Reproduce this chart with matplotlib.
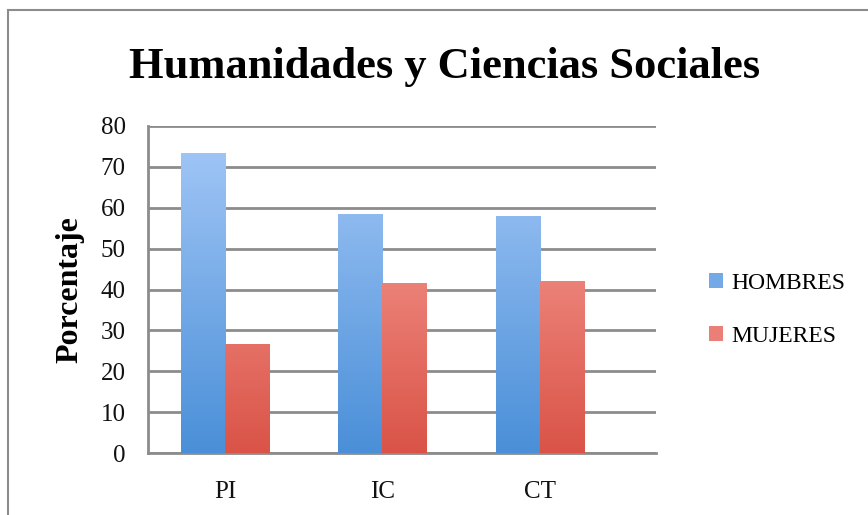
import numpy as np
import matplotlib.pyplot as plt
from matplotlib.colors import LinearSegmentedColormap
from matplotlib.patches import Rectangle, Patch

categories = ['PI', 'IC', 'CT']
hombres = [73.3, 58.4, 57.9]
mujeres = [26.7, 41.6, 42.1]

serif = ['Liberation Serif', 'DejaVu Serif']
plt.rcParams['font.family'] = serif

blue_cmap = LinearSegmentedColormap.from_list('b', ['#4a8fd8', '#a6c9f8'])
red_cmap = LinearSegmentedColormap.from_list('r', ['#da5347', '#fbaba5'])

fig = plt.figure(figsize=(8.68, 5.15), dpi=100)
ax = fig.add_axes([148/868, 1-453/515, (656-148)/868, (453-126)/515])

# outer chart border
fig.patches.append(Rectangle((8/868, -0.1), 1.2, 1 - 10/515 + 0.1, transform=fig.transFigure,
                             fill=False, edgecolor='#8c8c8c', linewidth=1.5))

x = np.arange(len(categories))
w = 0.28
grad = np.linspace(0, 1, 256).reshape(-1, 1)

def gradient_bars(xs, vals, cmap):
    bars = ax.bar(xs, vals, w, color='none', edgecolor='none', zorder=3)
    for b in bars:
        x0 = b.get_x()
        im = ax.imshow(grad, cmap=cmap, origin='lower', aspect='auto',
                       extent=[x0, x0 + b.get_width(), 0, 80], zorder=3)
        im.set_clip_path(b)
    return bars

gradient_bars(x - w/2, hombres, blue_cmap)
gradient_bars(x + w/2, mujeres, red_cmap)

ax.set_xlim(-0.49, 2.74)
ax.set_ylim(0, 80)
ax.set_yticks(range(0, 81, 10))
ax.set_xticks(x)
ax.set_xticklabels(categories)
ax.yaxis.grid(True, color='#8c8c8c', linewidth=2)
ax.set_axisbelow(True)
for s in ['top', 'right']:
    ax.spines[s].set_visible(False)
for s in ['left', 'bottom']:
    ax.spines[s].set_color('#8c8c8c')
    ax.spines[s].set_linewidth(2)
ax.tick_params(length=0, labelsize=18, labelcolor='#111111')
ax.tick_params(axis='y', pad=16)
ax.tick_params(axis='x', pad=20)

ax.set_ylabel('Porcentaje', fontsize=23, fontweight='bold', labelpad=12)
fig.text(445/868, 1-67/515, 'Humanidades y Ciencias Sociales', ha='center', va='center',
         fontsize=32, fontweight='bold')

handles = [Patch(facecolor='#74a9e8', edgecolor='none'), Patch(facecolor='#ea7f77', edgecolor='none')]
fig.legend(handles, ['HOMBRES', 'MUJERES'], loc='center left', bbox_to_anchor=(688/868, 1-310/515),
           frameon=False, fontsize=17, handlelength=0.6, handleheight=0.6, handletextpad=0.35,
           labelspacing=1.35)

fig.savefig('out.png', dpi=100)
